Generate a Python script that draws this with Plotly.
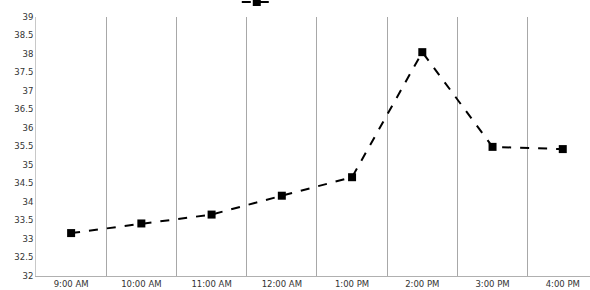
import plotly.graph_objects as go

times = ["9:00 AM", "10:00 AM", "11:00 AM", "12:00 AM", "1:00 PM", "2:00 PM", "3:00 PM", "4:00 PM"]
values = [33.16, 33.42, 33.66, 34.17, 34.67, 38.05, 35.49, 35.43]
y_ticks = [32, 32.5, 33, 33.5, 34, 34.5, 35, 35.5, 36, 36.5, 37, 37.5, 38, 38.5, 39]

fig = go.Figure()
fig.add_trace(go.Scatter(
    x=times, y=values, mode="lines+markers", name=" ",
    line=dict(color="black", width=2, dash="dash"),
    marker=dict(symbol="square", size=8, color="black"),
    showlegend=True,
))

fig.update_layout(
    width=600, height=290,
    margin=dict(l=36, r=0, t=17, b=14, autoexpand=False),
    paper_bgcolor="white", plot_bgcolor="white",
    font=dict(family="DejaVu Sans", size=9, color="#333"),
    showlegend=True,
    legend=dict(orientation="h", x=0.356, y=1.058, xanchor="left", yanchor="middle",
                bgcolor="rgba(0,0,0,0)", font=dict(size=8, color="white")),
    xaxis=dict(
        type="category", categoryorder="array", categoryarray=times,
        range=[-0.5, 7.53], tickson="boundaries",
        showgrid=True, gridcolor="#a8a8a8", gridwidth=1,
        showline=True, linecolor="#b0b0b0", linewidth=1,
        ticks="", tickfont=dict(size=8.5, color="#333"),
        zeroline=False,
    ),
    yaxis=dict(
        range=[32, 39], tickvals=y_ticks, ticktext=[f"{v:g}" for v in y_ticks],
        showgrid=False, showline=True, linecolor="#c8c8c8", linewidth=1,
        ticks="", tickfont=dict(size=8.5, color="#333"), zeroline=False,
    ),
)

fig.write_html("out.html", config={"displayModeBar": False},
               post_script="document.body.style.margin='0';document.body.style.overflow='hidden';")
